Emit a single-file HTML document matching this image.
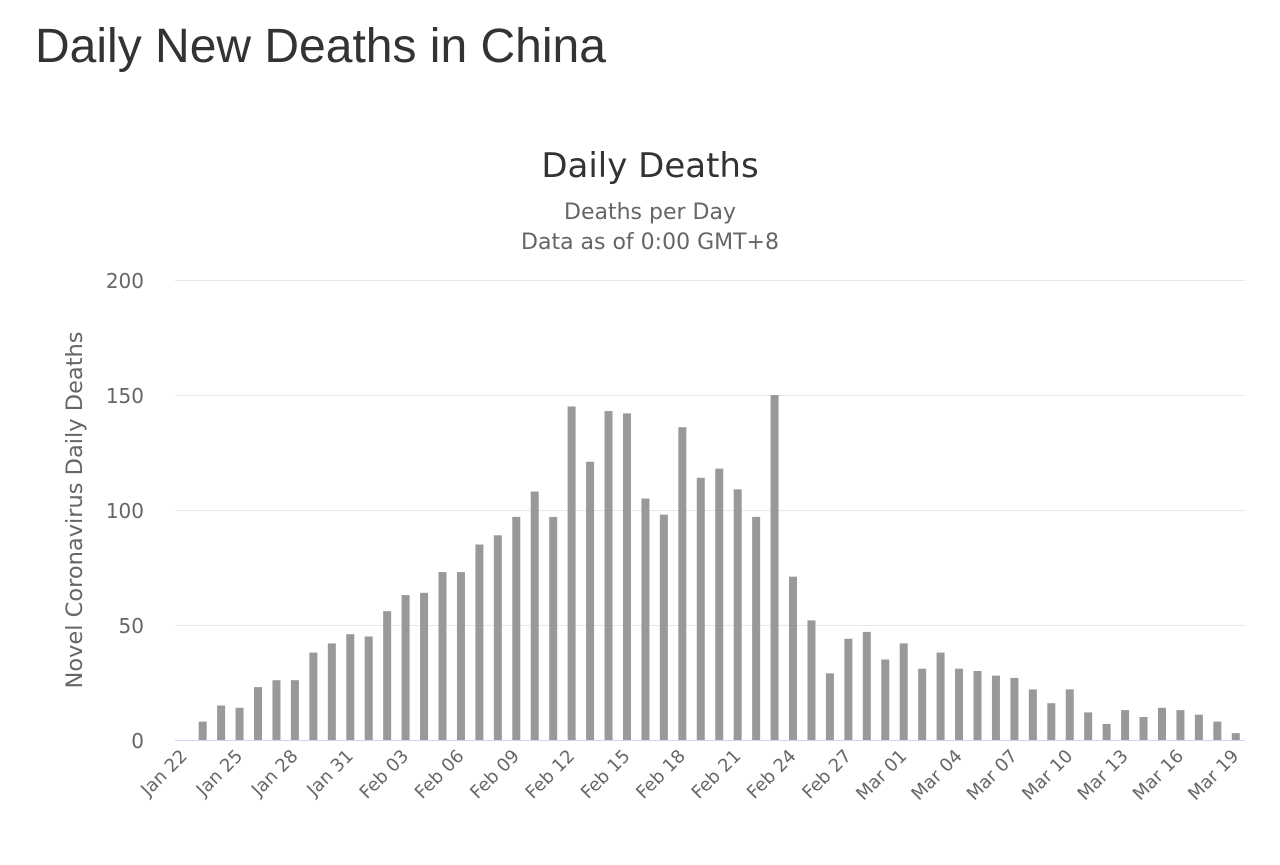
<!DOCTYPE html>
<html><head><meta charset="utf-8"><style>
body{margin:0;background:#fff;width:1280px;height:860px;overflow:hidden;font-family:"Liberation Sans","DejaVu Sans",sans-serif}
</style></head><body>
<svg width="1280" height="860" xmlns="http://www.w3.org/2000/svg" font-family="'DejaVu Sans','Liberation Sans',sans-serif">
<text x="35" y="62" font-family="'Liberation Sans',sans-serif" font-size="48" fill="#333">Daily New Deaths in China</text>
<text x="650" y="177" text-anchor="middle" font-size="34" fill="#333">Daily Deaths</text>
<text x="650" y="219" text-anchor="middle" font-size="22" fill="#666">Deaths per Day</text>
<text x="650" y="249" text-anchor="middle" font-size="22" fill="#666">Data as of 0:00 GMT+8</text>
<g stroke="#e6e6e6" stroke-width="1">
<line x1="175" x2="1245" y1="280.5" y2="280.5"/><line x1="175" x2="1245" y1="395.5" y2="395.5"/>
<line x1="175" x2="1245" y1="510.5" y2="510.5"/><line x1="175" x2="1245" y1="625.5" y2="625.5"/>
</g>
<g font-size="20" fill="#666" text-anchor="end">
<text x="144" y="288">200</text><text x="144" y="403">150</text><text x="144" y="518">100</text><text x="144" y="633">50</text><text x="144" y="748">0</text>
</g>
<text transform="translate(82,510) rotate(-90)" text-anchor="middle" font-size="22.5" fill="#666">Novel Coronavirus Daily Deaths</text>
<g id="bars" fill="#999"></g>
<line x1="175" x2="1245" y1="740.5" y2="740.5" stroke="#ccd6eb"/>
<g id="labels" font-size="18" fill="#666" text-anchor="end"></g>
</svg>
<script>
var v=[0,8,15,14,23,26,26,38,42,46,45,56,63,64,73,73,85,89,97,108,97,145,121,143,142,105,98,136,114,118,109,97,150,71,52,29,44,47,35,42,31,38,31,30,28,27,22,16,22,12,7,13,10,14,13,11,8,3];
var names=["Jan 22","Jan 25","Jan 28","Jan 31","Feb 03","Feb 06","Feb 09","Feb 12","Feb 15","Feb 18","Feb 21","Feb 24","Feb 27","Mar 01","Mar 04","Mar 07","Mar 10","Mar 13","Mar 16","Mar 19"];
var ns="http://www.w3.org/2000/svg",b=document.getElementById("bars"),l=document.getElementById("labels");
var w=1070/58;
v.forEach(function(d,i){var cx=175+w/2+i*w;var r=document.createElementNS(ns,"rect");
r.setAttribute("x",cx-4);r.setAttribute("width",8);r.setAttribute("y",740-d*2.3);r.setAttribute("height",d*2.3);b.appendChild(r);
if(i%3==0){var t=document.createElementNS(ns,"text");t.setAttribute("transform","translate("+(cx+4)+",757) rotate(-45)");t.textContent=names[i/3];l.appendChild(t);}});
</script>
</body></html>
